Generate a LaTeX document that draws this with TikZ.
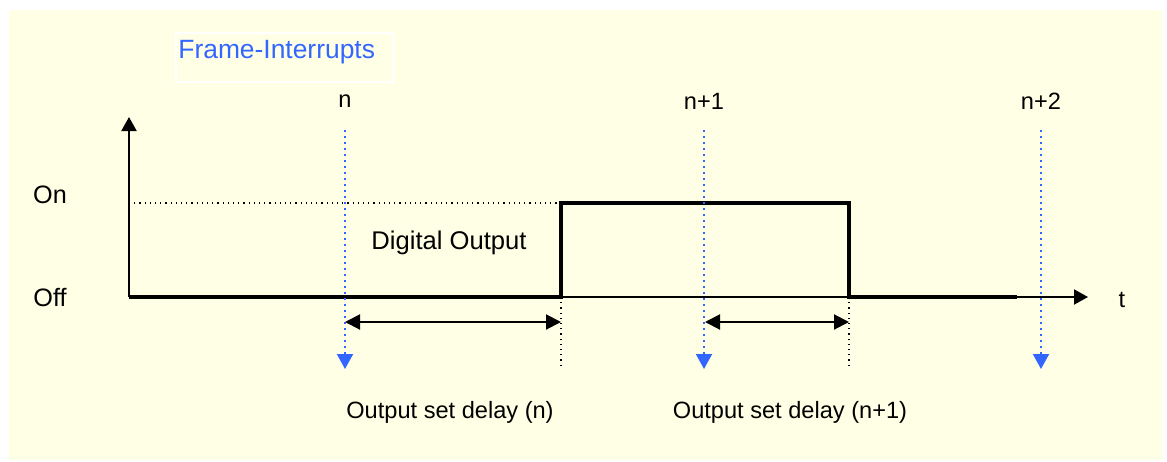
\documentclass[tikz,border=0pt]{standalone}
\usepackage{fontspec}
\setmainfont{Liberation Sans}
\usetikzlibrary{arrows.meta}
\definecolor{bgyellow}{RGB}{255,255,229}
\definecolor{ifblue}{RGB}{51,102,255}
\begin{document}
\begin{tikzpicture}[x=0.5pt,y=-0.5pt,
  lbl/.style={inner sep=0pt,font=\fontsize{11.8}{14}\selectfont},
  axisline/.style={line width=1pt,-{Triangle[length=7pt,width=7.5pt]}},
  sigline/.style={line width=2pt,line join=miter},
  irq/.style={ifblue,line width=1pt,dotted,-{Triangle[length=7.5pt,width=8pt]}},
  guide/.style={black,line width=0.6pt,dotted},
  delay/.style={line width=1pt,{Triangle[length=7.5pt,width=7.5pt]}-{Triangle[length=7.5pt,width=7.5pt]}}]
\useasboundingbox (0,0) rectangle (1167,461);
\fill[bgyellow] (9,10) rectangle (1162,460);
% title box
\draw[white,line width=0.6pt] (176,33) rectangle (393,82);
\node[lbl,text=ifblue,font=\fontsize{13.2}{15}\selectfont,anchor=west] (title) at (178,52) {Frame-Interrupts};
% coordinates
\coordinate (origin) at (129,297);
\coordinate (ytop) at (129,117);
\coordinate (xend) at (1088,297);
\coordinate (r1) at (561,297);
\coordinate (r1t) at (561,203);
\coordinate (f1t) at (849,203);
\coordinate (f1) at (849,297);
\coordinate (lowend) at (1017,297);
\coordinate (ontop) at (129,203);
% axes
\draw[axisline] (origin) -- (ytop);
\draw[axisline] (origin) -- (xend);
% on level guide
\draw[guide] (ontop) -- (r1t);
% signal
\draw[sigline] (origin) -- (r1) -- (r1t) -- (f1t) -- (f1) -- (lowend);
% guides under edges
\coordinate (r1b) at (561,368);
\coordinate (f1b) at (849,368);
\draw[guide] (r1) -- (r1b);
\draw[guide] (f1) -- (f1b);
% interrupts
\node[lbl] (n0) at (345,101) {n};
\node[lbl] (n1) at (704,101) {n+1};
\node[lbl] (n2) at (1041,101) {n+2};
\coordinate (i0t) at (345,130); \coordinate (i0b) at (345,369);
\coordinate (i1t) at (704,130); \coordinate (i1b) at (704,369);
\coordinate (i2t) at (1041,130); \coordinate (i2b) at (1041,369);
\draw[irq] (i0t) -- (i0b);
\draw[irq] (i1t) -- (i1b);
\draw[irq] (i2t) -- (i2b);
% delays
\coordinate (d0a) at (345,322); \coordinate (d0b) at (561,322);
\coordinate (d1a) at (705,322); \coordinate (d1b) at (849,322);
\draw[delay] (d0a) -- (d0b);
\draw[delay] (d1a) -- (d1b);
% labels
\node[lbl,font=\fontsize{12.6}{15}\selectfont] (on) at (50,195) {On};
\node[lbl,font=\fontsize{12.6}{15}\selectfont] (off) at (50,297) {Off};
\node[lbl] (t) at (1122,300) {t};
\node[lbl,font=\fontsize{12.8}{15}\selectfont] (dout) at (449,243) {Digital Output};
\node[lbl] (ld0) at (450,412) {Output set delay (n)};
\node[lbl] (ld1) at (790,412) {Output set delay (n+1)};
\end{tikzpicture}
\end{document}
